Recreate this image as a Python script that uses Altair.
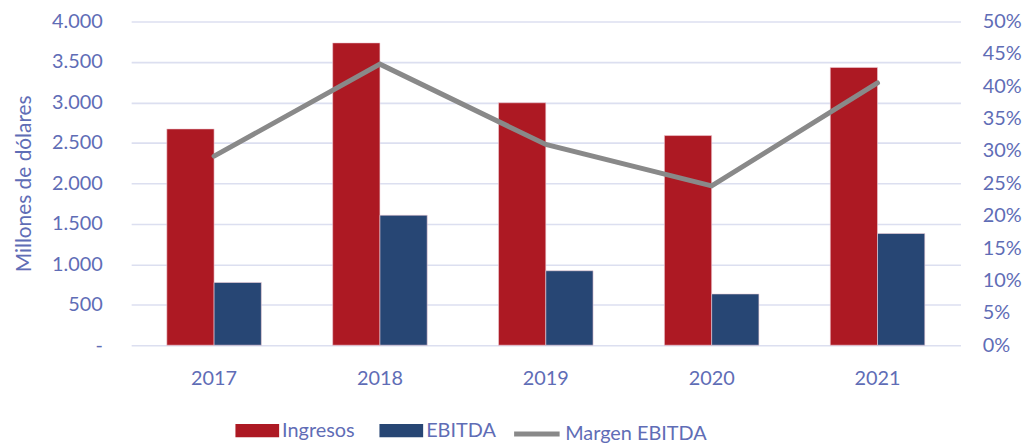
import altair as alt
import pandas as pd

years = ["2017", "2018", "2019", "2020", "2021"]
ingresos = [2672, 3735, 2995, 2590, 3432]
ebitda = [775, 1606, 920, 633, 1380]
margen = [0.292, 0.434, 0.310, 0.246, 0.405]
series = ["Ingresos", "EBITDA"]
colors = ["#AD1923", "#274674"]
line_name = "Margen EBITDA"
line_color = "#898989"
text_color = "#5F6DB6"
grid_color = "#DCDFF0"
FONT = "Lato"
FS = 20

bars_df = pd.DataFrame(
    [{"year": y, "serie": series[0], "value": v} for y, v in zip(years, ingresos)]
    + [{"year": y, "serie": series[1], "value": v} for y, v in zip(years, ebitda)]
)
line_df = pd.DataFrame({"year": years, "margen": margen, "name": [line_name] * len(years)})

x_enc = alt.X(
    "year:N",
    sort=years,
    title=None,
    scale=alt.Scale(paddingInner=0.43, paddingOuter=0.215),
    axis=alt.Axis(labelAngle=0, ticks=False, domain=False, labelPadding=24,
                  labelFontSize=FS, labelColor=text_color, labelFont=FONT),
)

bars = alt.Chart(bars_df).mark_bar(stroke="#F0D0D8", strokeWidth=0.6).encode(
    x=x_enc,
    xOffset=alt.XOffset("serie:N", sort=series),
    y=alt.Y(
        "value:Q",
        scale=alt.Scale(domain=[0, 4000]),
        title="Millones de dólares",
        axis=alt.Axis(
            values=list(range(0, 4001, 500)),
            labelExpr="datum.value == 0 ? '-\u2007' : replace(format(datum.value, ','), ',', '.')",
            ticks=False, domain=False, grid=True, gridColor=grid_color, gridWidth=1.6,
            labelFontSize=FS, labelColor=text_color, labelFont=FONT, labelPadding=29,
            titleFontSize=21, titleColor=text_color, titleFont=FONT, titleFontWeight="normal",
            titlePadding=17,
        ),
    ),
    fill=alt.Fill(
        "serie:N",
        sort=series,
        scale=alt.Scale(domain=series, range=colors),
        legend=alt.Legend(
            title=None, orient="none", direction="horizontal", legendX=105, legendY=390,
            symbolType="M-1,-0.3L1,-0.3L1,0.3L-1,0.3Z", symbolSize=1936,
            symbolStrokeWidth=0, labelFontSize=FS, labelColor=text_color, labelFont=FONT,
            columnPadding=24, labelOffset=3,
        ),
    ),
)

line = alt.Chart(line_df).mark_line(strokeWidth=5, strokeCap="round", strokeJoin="miter").encode(
    x=alt.X("year:N", sort=years),
    y=alt.Y(
        "margen:Q",
        scale=alt.Scale(domain=[0, 0.5]),
        title=None,
        axis=alt.Axis(
            orient="right", values=[i / 100 for i in range(0, 51, 5)], format=".0%",
            ticks=False, domain=False, grid=False,
            labelFontSize=FS, labelColor=text_color, labelFont=FONT, labelPadding=22,
        ),
    ),
    stroke=alt.Stroke(
        "name:N",
        scale=alt.Scale(domain=[line_name], range=[line_color]),
        legend=alt.Legend(
            title=None, orient="none", direction="horizontal", legendX=383, legendY=390,
            symbolType="stroke", symbolSize=2100, symbolStrokeWidth=5,
            labelFontSize=FS, labelColor=text_color, labelFont=FONT, labelOffset=3,
        ),
    ),
)

chart = (
    alt.layer(bars, line)
    .resolve_scale(y="independent")
    .properties(width=835, height=326, padding={"left": 5, "top": 2, "right": 5, "bottom": 5})
    .configure_view(stroke=None)
    .configure_legend(symbolOpacity=1)
)

chart.save("out.html", embed_options={"renderer": "svg", "actions": False})
